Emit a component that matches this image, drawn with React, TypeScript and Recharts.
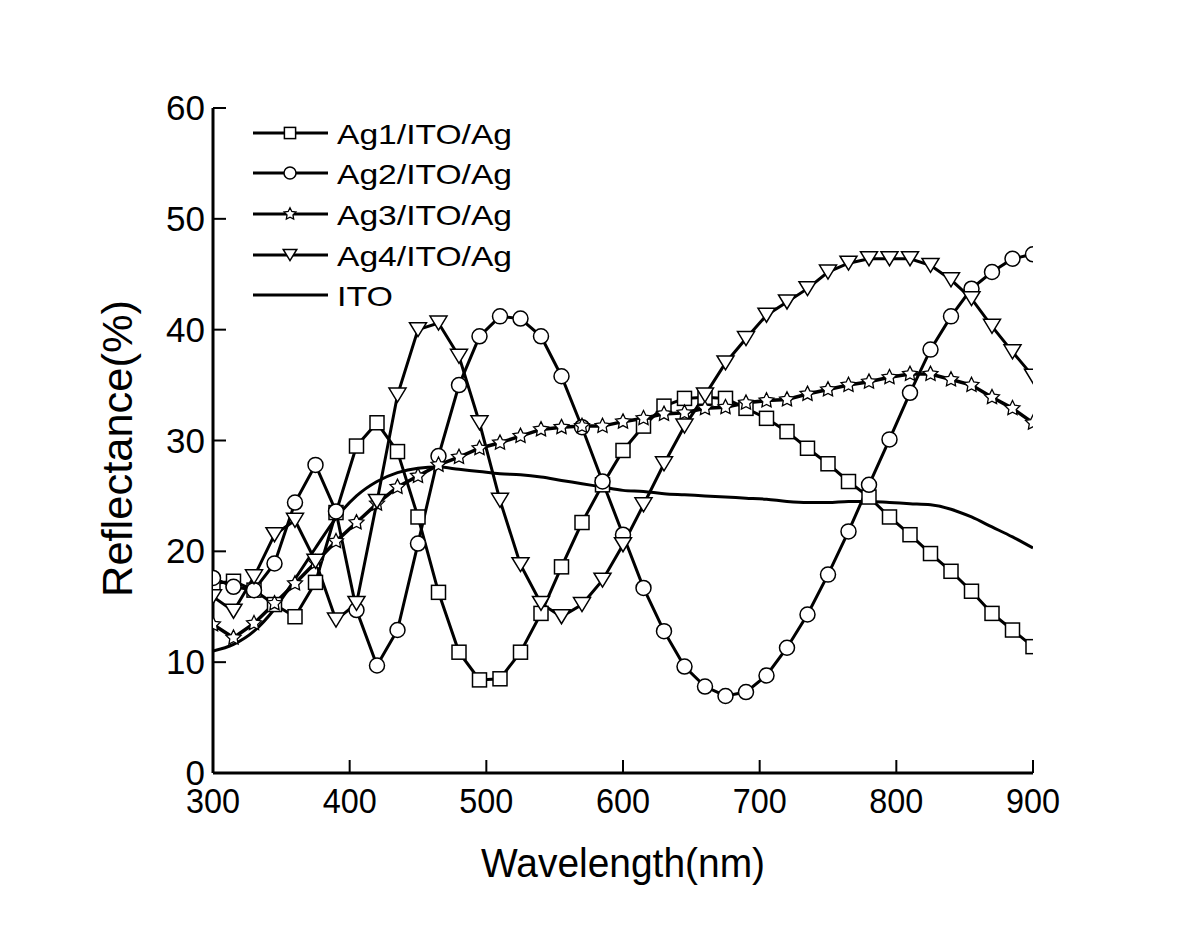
import { LineChart, Line, XAxis, YAxis, Legend, Label } from 'recharts';

// wavelength (nm), one marker every 15 nm
const wavelength = [
  300, 315, 330, 345, 360, 375, 390, 405, 420, 435, 450, 465, 480, 495, 510, 525, 540, 555, 570, 585, 600,
  615, 630, 645, 660, 675, 690, 705, 720, 735, 750, 765, 780, 795, 810, 825, 840, 855, 870, 885, 900,
];

const ag1 = [
  17.1, 17.3, 16.5, 15.2, 14.1, 17.2, 23.5, 29.5, 31.6, 29.0, 23.1, 16.3, 10.9, 8.4, 8.5, 10.9, 14.4, 18.6, 22.6, 26.0, 29.1,
  31.3, 33.1, 33.8, 33.9, 33.8, 32.9, 32.0, 30.8, 29.3, 27.9, 26.3, 24.9, 23.1, 21.5, 19.8, 18.2, 16.4, 14.4, 12.9, 11.4,
];

const ag2 = [
  17.6, 16.8, 16.5, 18.9, 24.4, 27.8, 23.6, 14.7, 9.7, 12.9, 20.7, 28.6, 35.0, 39.4, 41.2, 41.0, 39.4, 35.8, 31.2, 26.3, 21.5,
  16.7, 12.8, 9.6, 7.8, 6.95, 7.3, 8.8, 11.3, 14.3, 17.9, 21.8, 26.0, 30.1, 34.3, 38.2, 41.2, 43.7, 45.2, 46.4, 46.8,
];

const ag3 = [
  13.4, 12.2, 13.5, 15.3, 17.1, 19.0, 20.9, 22.6, 24.3, 25.8, 26.8, 27.8, 28.5, 29.3, 29.8, 30.4, 31.0, 31.2, 31.3, 31.3, 31.7,
  32.0, 32.4, 32.5, 32.9, 33.0, 33.4, 33.6, 33.7, 34.2, 34.6, 35.0, 35.3, 35.7, 36.0, 36.0, 35.5, 35.0, 33.9, 32.9, 31.6,
];

const ag4 = [
  15.9, 14.6, 17.7, 21.5, 22.8, 19.1, 13.8, 15.3, 24.5, 34.1, 40.0, 40.6, 37.6, 31.6, 24.6, 18.8, 15.3, 14.1, 15.2, 17.4, 20.6,
  24.2, 27.9, 31.3, 34.1, 37.0, 39.2, 41.3, 42.5, 43.7, 45.2, 46.0, 46.4, 46.4, 46.4, 45.8, 44.5, 42.8, 40.3, 38.0, 35.8,
];

const ito = [
  11.0, 11.6, 12.8, 14.8, 17.5, 20.3, 23.0, 25.0, 26.3, 27.1, 27.5, 27.6, 27.4, 27.2, 27.0, 26.9, 26.7, 26.4, 26.1, 25.8, 25.5,
  25.4, 25.2, 25.1, 25.0, 24.9, 24.8, 24.7, 24.5, 24.4, 24.4, 24.5, 24.5, 24.4, 24.3, 24.2, 23.8, 23.1, 22.2, 21.3, 20.3,
];

const seriesNames = ['Ag1/ITO/Ag', 'Ag2/ITO/Ag', 'Ag3/ITO/Ag', 'Ag4/ITO/Ag', 'ITO'];
const xTicks = [300, 400, 500, 600, 700, 800, 900];
const yTicks = [0, 10, 20, 30, 40, 50, 60];

const data = wavelength.map((w, i) => ({
  w,
  ag1: ag1[i],
  ag2: ag2[i],
  ag3: ag3[i],
  ag4: ag4[i],
  ito: ito[i],
}));

const FONT = '"Liberation Sans", Arial, sans-serif';

function starPoints(cx: number, cy: number, R: number, r: number) {
  const pts: string[] = [];
  for (let i = 0; i < 10; i++) {
    const rad = i % 2 === 0 ? R : r;
    const a = -Math.PI / 2 + (i * Math.PI) / 5;
    pts.push(`${cx + rad * Math.cos(a)},${cy + rad * Math.sin(a)}`);
  }
  return pts.join(' ');
}

function Marker({ shape, cx, cy, k = 1 }: { shape: string; cx: number; cy: number; k?: number }) {
  const common = { fill: '#fff', stroke: '#000', strokeWidth: 1.5 };
  if (shape === 'square') {
    const s = 14 * k;
    return <rect x={cx - s / 2} y={cy - s / 2} width={s} height={s} {...common} />;
  }
  if (shape === 'circle') {
    return <circle cx={cx} cy={cy} r={7.5 * k} {...common} />;
  }
  if (shape === 'star') {
    return <polygon points={starPoints(cx, cy, 7.8 * k, 3.9 * k)} {...common} strokeWidth={1.3} />;
  }
  if (shape === 'triangle') {
    const w = 17 * k;
    const h = 14 * k;
    return (
      <polygon
        points={`${cx - w / 2},${cy - h / 2} ${cx + w / 2},${cy - h / 2} ${cx},${cy + h / 2}`}
        {...common}
      />
    );
  }
  return null;
}

const shapes = ['square', 'circle', 'star', 'triangle', 'none'];

function dotFor(shape: string) {
  return (p: any) => <Marker key={`${shape}-${p.index}`} shape={shape} cx={p.cx} cy={p.cy} />;
}

function XTick(props: any) {
  const { x, y, payload } = props;
  const axisY = y - 10;
  return (
    <g>
      <line x1={x} y1={axisY} x2={x} y2={axisY - 13} stroke="#000" strokeWidth={2} />
      <text
        transform={`translate(${x},${axisY + 40}) scale(0.9,1)`}
        textAnchor="middle"
        fontFamily={FONT}
        fontSize={36}
        fill="#000"
      >
        {payload.value}
      </text>
    </g>
  );
}

function YTick(props: any) {
  const { x, y, payload } = props;
  const axisX = x + 10;
  return (
    <g>
      <line x1={axisX} y1={y} x2={axisX + 13} y2={y} stroke="#000" strokeWidth={2} />
      <text x={axisX - 8} y={y + 12} textAnchor="end" fontFamily={FONT} fontSize={35} fill="#000">
        {payload.value}
      </text>
    </g>
  );
}

function LegendBox() {
  const rows = [25, 65, 106, 147, 187];
  return (
    <svg width={330} height={210} style={{ display: 'block', overflow: 'visible' }}>
      {seriesNames.map((name, i) => (
        <g key={name}>
          <line x1={5} y1={rows[i]} x2={80} y2={rows[i]} stroke="#000" strokeWidth={3} />
          <Marker shape={shapes[i]} cx={42} cy={rows[i]} k={0.8} />
          <text
            x={89}
            y={rows[i] + 11}
            fontFamily={FONT}
            fontSize={28}
            fill="#000"
            textLength={name === 'ITO' ? 56 : 175}
            lengthAdjust="spacingAndGlyphs"
          >
            {name}
          </text>
        </g>
      ))}
    </svg>
  );
}

export default function App() {
  return (
    <div style={{ width: 1184, height: 911, background: '#fff' }}>
      <LineChart width={1184} height={911} data={data} margin={{ top: 100, right: 159, bottom: 86, left: 145 }}>
        <XAxis
          dataKey="w"
          type="number"
          domain={[300, 900]}
          ticks={xTicks}
          allowDataOverflow
          height={60}
          axisLine={{ stroke: '#000', strokeWidth: 3 }}
          tickLine={false}
          tickSize={0}
          tickMargin={10}
          tick={<XTick />}
          interval={0}
        >
          <Label
            content={(p: any) => {
              const vb = p.viewBox;
              return (
                <text
                  x={vb.x + vb.width / 2}
                  y={vb.y + 104}
                  textAnchor="middle"
                  fontFamily={FONT}
                  fontSize={40}
                  fill="#000"
                  textLength={284}
                  lengthAdjust="spacingAndGlyphs"
                >
                  Wavelength(nm)
                </text>
              );
            }}
          />
        </XAxis>
        <XAxis
          xAxisId="top"
          orientation="top"
          dataKey="w"
          type="number"
          domain={[300, 900]}
          height={0}
          axisLine={{ stroke: '#000', strokeWidth: 3 }}
          tick={false}
          tickLine={false}
        />
        <YAxis
          type="number"
          domain={[0, 60]}
          ticks={yTicks}
          width={60}
          axisLine={{ stroke: '#000', strokeWidth: 3 }}
          tickLine={false}
          tickSize={0}
          tickMargin={10}
          tick={<YTick />}
          interval={0}
        >
          <Label
            content={(p: any) => {
              const vb = p.viewBox;
              const cx = vb.x - 21;
              const cy = vb.y + vb.height / 2 + 8;
              return (
                <text
                  x={cx}
                  y={cy}
                  transform={`rotate(-90, ${cx}, ${cy})`}
                  textAnchor="middle"
                  fontFamily={FONT}
                  fontSize={42}
                  fill="#000"
                  textLength={297}
                  lengthAdjust="spacingAndGlyphs"
                >
                  Reflectance(%)
                </text>
              );
            }}
          />
        </YAxis>
        <YAxis
          yAxisId="right"
          orientation="right"
          type="number"
          domain={[0, 60]}
          width={0}
          axisLine={{ stroke: '#000', strokeWidth: 3 }}
          tick={false}
          tickLine={false}
        />
        <Legend
          content={() => <LegendBox />}
          wrapperStyle={{ position: 'absolute', left: 240, top: 100, width: 0, height: 0, overflow: 'visible' }}
        />
        <Line type="linear" dataKey="ag1" name={seriesNames[0]} stroke="#000" strokeWidth={3} dot={dotFor('square')} activeDot={false} isAnimationActive={false} />
        <Line type="linear" dataKey="ag2" name={seriesNames[1]} stroke="#000" strokeWidth={3} dot={dotFor('circle')} activeDot={false} isAnimationActive={false} />
        <Line type="linear" dataKey="ag3" name={seriesNames[2]} stroke="#000" strokeWidth={3.5} dot={dotFor('star')} activeDot={false} isAnimationActive={false} />
        <Line type="linear" dataKey="ag4" name={seriesNames[3]} stroke="#000" strokeWidth={3} dot={dotFor('triangle')} activeDot={false} isAnimationActive={false} />
        <Line type="monotone" dataKey="ito" name={seriesNames[4]} stroke="#000" strokeWidth={3} dot={false} activeDot={false} isAnimationActive={false} />
      </LineChart>
    </div>
  );
}
